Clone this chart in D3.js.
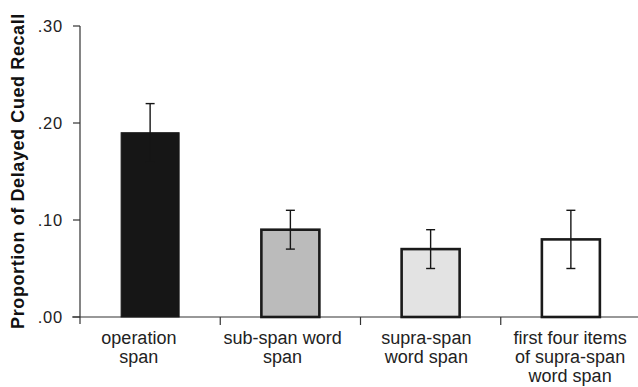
<!DOCTYPE html>
<html>
<head>
<meta charset="utf-8">
<script src="https://cdn.jsdelivr.net/npm/d3@7"></script>
<style>
  body { margin: 0; background: #fff; }
  svg { display: block; font-family: "Liberation Sans", Arial, Helvetica, sans-serif; }
</style>
</head>
<body>
<svg id="chart"></svg>
<script>
// 条件ごとの値
const categories = [
  ["operation", "span"],
  ["sub-span word", "span"],
  ["supra-span", "word span"],
  ["first four items", "of supra-span", "word span"]
];
const means = [0.19, 0.09, 0.07, 0.08];
const errors = [0.03, 0.02, 0.02, 0.03];
const fills = ["#161616", "#bbbbbb", "#e3e3e3", "#ffffff"];
const yTicks = [0, 0.10, 0.20, 0.30];
const yTickLabels = [".00", ".10", ".20", ".30"];

const width = 638;
const height = 387;

const svg = d3.select("#chart")
  .attr("width", width)
  .attr("height", height);

const x = d3.scaleBand()
  .domain(d3.range(categories.length))
  .range([80, 641]);

// ラベルは棒の中心から少し左にずれている
const xLabel = d3.scaleBand()
  .domain(d3.range(categories.length))
  .range([67, 642]);

const y = d3.scaleLinear()
  .domain([0, 0.30])
  .range([317, 26]);

const barW = 58;

// y軸
svg.append("line")
  .attr("x1", 80).attr("x2", 80)
  .attr("y1", y(0.30)).attr("y2", 324)
  .attr("stroke", "#333").attr("stroke-width", 1.2);

svg.selectAll(".ytick")
  .data(yTicks)
  .enter().append("line")
  .attr("x1", 73).attr("x2", 80)
  .attr("y1", d => y(d)).attr("y2", d => y(d))
  .attr("stroke", "#333").attr("stroke-width", 1.2);

svg.selectAll(".ylabel")
  .data(yTicks)
  .enter().append("text")
  .attr("x", 63)
  .attr("y", d => y(d))
  .attr("dy", "0.36em")
  .attr("text-anchor", "end")
  .attr("font-size", 16.5)
  .attr("letter-spacing", 0.8)
  .attr("fill", "#222")
  .text((d, i) => yTickLabels[i]);

// y軸タイトル
svg.append("text")
  .attr("transform", `translate(23.5,171) rotate(-90)`)
  .attr("text-anchor", "middle")
  .attr("font-size", 18)
  .attr("letter-spacing", 0.6)
  .attr("font-weight", "bold")
  .attr("fill", "#111")
  .text("Proportion of Delayed Cued Recall");

// x軸
svg.append("line")
  .attr("x1", 72).attr("x2", width)
  .attr("y1", y(0)).attr("y2", y(0))
  .attr("stroke", "#333").attr("stroke-width", 1.2);

svg.selectAll(".xtick")
  .data(d3.range(1, categories.length))
  .enter().append("line")
  .attr("x1", d => x(d)).attr("x2", d => x(d))
  .attr("y1", y(0)).attr("y2", 325)
  .attr("stroke", "#333").attr("stroke-width", 1.2);

// 棒
svg.selectAll(".bar")
  .data(means)
  .enter().append("rect")
  .attr("x", (d, i) => x(i) + x.bandwidth() / 2 - barW / 2)
  .attr("y", d => y(d))
  .attr("width", barW)
  .attr("height", d => y(0) - y(d))
  .attr("fill", (d, i) => fills[i])
  .attr("stroke", "#1a1a1a")
  .attr("stroke-width", (d, i) => i === 0 ? 1 : 2.6);

// 誤差棒
const err = svg.selectAll(".err")
  .data(means)
  .enter().append("g")
  .attr("stroke", "#161616")
  .attr("stroke-width", 1.4);

err.append("line")
  .attr("x1", (d, i) => x(i) + x.bandwidth() / 2)
  .attr("x2", (d, i) => x(i) + x.bandwidth() / 2)
  .attr("y1", (d, i) => y(d - errors[i]))
  .attr("y2", (d, i) => y(d + errors[i]));

[1, -1].forEach(s => {
  err.append("line")
    .attr("x1", (d, i) => x(i) + x.bandwidth() / 2 - 4.5)
    .attr("x2", (d, i) => x(i) + x.bandwidth() / 2 + 4.5)
    .attr("y1", (d, i) => y(d + s * errors[i]))
    .attr("y2", (d, i) => y(d + s * errors[i]));
});

// カテゴリ名
const labels = svg.selectAll(".xlabel")
  .data(categories)
  .enter().append("text")
  .attr("text-anchor", "middle")
  .attr("font-size", 18)
  .attr("fill", "#222");

labels.selectAll("tspan")
  .data((d, i) => d.map(t => ({ t, i })))
  .enter().append("tspan")
  .attr("x", d => xLabel(d.i) + xLabel.bandwidth() / 2)
  .attr("y", (d, j) => 344 + j * 19)
  .text(d => d.t);
</script>
</body>
</html>
